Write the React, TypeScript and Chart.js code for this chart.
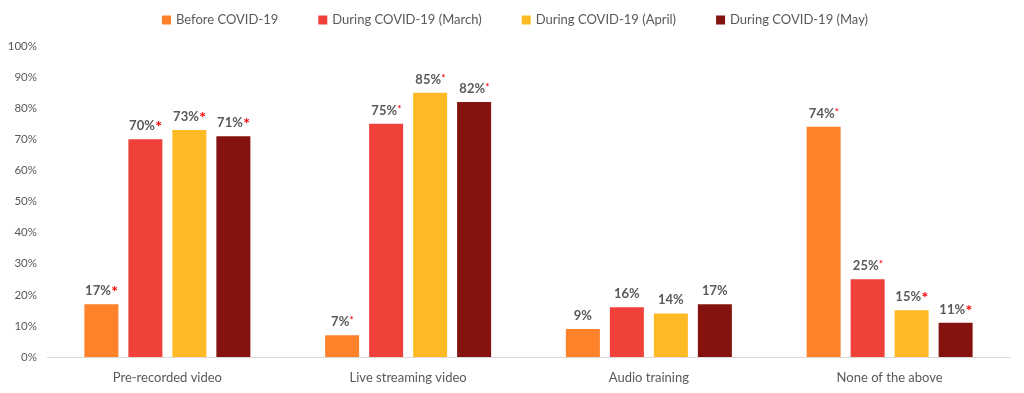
import React, { useEffect, useRef } from "react";
import { Chart, registerables } from "chart.js";

Chart.register(...registerables);

const categories = ["Pre-recorded video", "Live streaming video", "Audio training", "None of the above"];
const seriesNames = ["Before COVID-19", "During COVID-19 (March)", "During COVID-19 (April)", "During COVID-19 (May)"];
const beforeValues = [17, 7, 9, 74];
const marchValues = [70, 75, 16, 25];
const aprilValues = [73, 85, 14, 15];
const mayValues = [71, 82, 17, 11];
// asterisk markers: "L" large, "S" small, "" none
const beforeStars = ["L", "S", "", "S"];
const marchStars = ["L", "S", "", "S"];
const aprilStars = ["L", "S", "", "L"];
const mayStars = ["L", "S", "", "L"];
const seriesColors = ["#FF8129", "#EF413A", "#FEBA24", "#84130F"];
const yTicks = [0, 10, 20, 30, 40, 50, 60, 70, 80, 90, 100];

const FONT = "Lato, 'Liberation Sans', sans-serif";
const GRAY = "#595959";

const allValues = [beforeValues, marchValues, aprilValues, mayValues];
const allStars = [beforeStars, marchStars, aprilStars, mayStars];

const labelPlugin = {
  id: "valueLabels",
  afterDatasetsDraw(chart: any) {
    const ctx = chart.ctx;
    ctx.save();
    chart.data.datasets.forEach((ds: any, i: number) => {
      const meta = chart.getDatasetMeta(i);
      meta.data.forEach((el: any, j: number) => {
        const text = ds.data[j] + "%";
        const star = allStars[i][j];
        ctx.font = "bold 13px " + FONT;
        const tw = ctx.measureText(text).width;
        let sw = 0;
        let starFont = "";
        if (star === "L") {
          starFont = "bold 16px " + FONT;
        } else if (star === "S") {
          starFont = "bold 9px " + FONT;
        }
        if (star) {
          ctx.font = starFont;
          sw = ctx.measureText("*").width;
        }
        const total = tw + sw;
        const x0 = el.x - total / 2;
        const baseY = el.y - 9;
        ctx.font = "bold 13px " + FONT;
        ctx.fillStyle = GRAY;
        ctx.textAlign = "left";
        ctx.textBaseline = "alphabetic";
        ctx.fillText(text, x0, baseY);
        if (star) {
          ctx.font = starFont;
          ctx.fillStyle = "#FF0000";
          ctx.fillText("*", x0 + tw + 0.5, star === "L" ? baseY + 2 : baseY - 3);
        }
      });
    });
    ctx.restore();
  },
};

const legendPlugin = {
  id: "customLegend",
  afterDraw(chart: any) {
    const ctx = chart.ctx;
    ctx.save();
    ctx.font = "13px " + FONT;
    const box = 9;
    const gapBoxText = 5;
    const itemGap = 40;
    const widths = seriesNames.map((n) => box + gapBoxText + ctx.measureText(n).width);
    const total = widths.reduce((a, b) => a + b, 0) + itemGap * (seriesNames.length - 1);
    let x = chart.width / 2 + 3 - total / 2;
    const cy = 20;
    seriesNames.forEach((n, i) => {
      ctx.fillStyle = seriesColors[i];
      ctx.fillRect(x, cy - box / 2, box, box);
      ctx.fillStyle = GRAY;
      ctx.textAlign = "left";
      ctx.textBaseline = "middle";
      ctx.fillText(n, x + box + gapBoxText, cy);
      x += widths[i] + itemGap;
    });
    ctx.restore();
  },
};

export default function App() {
  const ref = useRef<HTMLCanvasElement>(null);
  useEffect(() => {
    document.body.style.margin = "0";
    const chart = new Chart(ref.current!, {
      type: "bar",
      data: {
        labels: categories,
        datasets: seriesNames.map((name, i) => ({
          label: name,
          data: allValues[i],
          backgroundColor: seriesColors[i],
          borderWidth: 0,
          categoryPercentage: 0.731,
          barPercentage: 0.773,
        })),
      },
      options: {
        animation: false,
        responsive: false,
        maintainAspectRatio: false,
        layout: { padding: { top: 46, right: 14, left: 0, bottom: 0 } },
        plugins: {
          legend: { display: false },
          tooltip: { enabled: false },
        },
        scales: {
          x: {
            grid: { display: false, drawTicks: false },
            border: { display: true, color: "#D9D9D9", width: 1 },
            ticks: { color: GRAY, font: { family: FONT, size: 13 }, padding: 13 },
            afterFit: (s: any) => {
              s.height = 36;
            },
          },
          y: {
            min: 0,
            max: 100,
            afterBuildTicks: (s: any) => {
              s.ticks = yTicks.map((v) => ({ value: v }));
            },
            grid: { display: false, drawTicks: false },
            border: { display: false },
            ticks: {
              color: GRAY,
              font: { family: FONT, size: 11.5 },
              padding: 10,
              callback: (v: any) => v + "%",
            },
            afterFit: (s: any) => {
              s.width = 47;
            },
          },
        },
      },
      plugins: [labelPlugin, legendPlugin],
    });
    return () => chart.destroy();
  }, []);
  return <canvas ref={ref} width={1024} height={393} style={{ display: "block" }} />;
}
